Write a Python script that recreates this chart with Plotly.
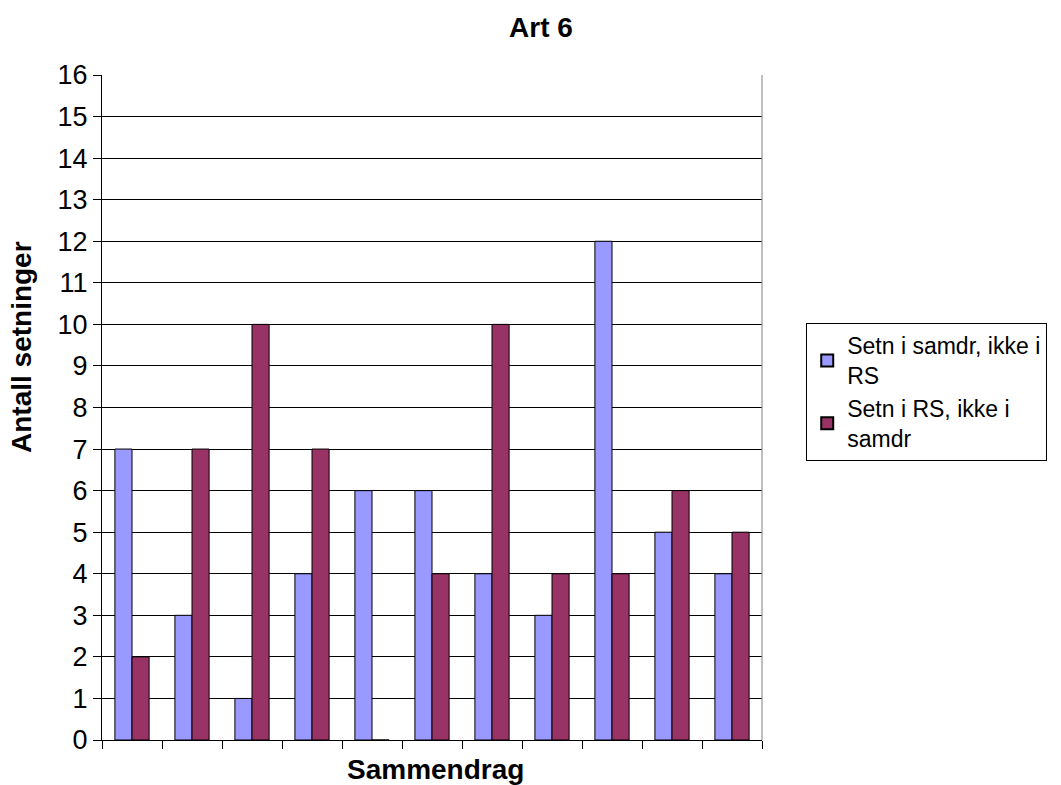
import plotly.graph_objects as go

categories = list(range(1, 12))
series1_name = "Setn i samdr, ikke i<br>RS"
series2_name = "Setn i RS, ikke i<br>samdr"
series1 = [7, 3, 1, 4, 6, 6, 4, 3, 12, 5, 4]
series2 = [2, 7, 10, 7, 0, 4, 10, 4, 4, 6, 5]
y_ticks = list(range(0, 17))

FONT = "Liberation Sans, Arial, sans-serif"

fig = go.Figure()
fig.add_trace(go.Bar(x=categories, y=series1, name=series1_name,
                     marker=dict(color="#9999FF", line=dict(color="black", width=1))))
fig.add_trace(go.Bar(x=categories, y=series2, name=series2_name,
                     marker=dict(color="#993366", line=dict(color="black", width=1))))

fig.update_layout(
    width=1061, height=785,
    margin=dict(l=102, r=299, t=75, b=45),
    paper_bgcolor="white", plot_bgcolor="white",
    barmode="group", bargap=0.43, bargroupgap=0,
    font=dict(family=FONT, color="black"),
    title=dict(text="<b>Art 6</b>", x=541/1061, xanchor="center", y=1-27/785, yanchor="middle",
               font=dict(size=28, family=FONT)),
    legend=dict(x=1.067, y=0.627, xanchor="left", yanchor="top",
                bordercolor="black", borderwidth=1, bgcolor="white",
                font=dict(size=23, family=FONT), tracegroupgap=12,
                itemsizing="constant"),
)
fig.update_xaxes(
    range=[0.5, 11.5],
    tickvals=[0.5 + i for i in range(12)], ticktext=[""] * 12,
    ticks="outside", ticklen=8, tickcolor="black",
    showline=True, linecolor="black", linewidth=1, showgrid=False, zeroline=False,
)
fig.update_yaxes(
    range=[0, 16], tickvals=y_ticks,
    ticks="outside", ticklen=8, tickcolor="black",
    tickfont=dict(size=27, family=FONT),
    showline=True, linecolor="black", linewidth=1,
    showgrid=True, gridcolor="black", gridwidth=1, zeroline=False,
)
fig.add_annotation(text="<b>Sammendrag</b>", xref="paper", yref="paper",
                   x=(435 - 102) / 660, y=(740 - 770) / 665, xanchor="center", yanchor="middle",
                   showarrow=False, font=dict(size=28, family=FONT))
fig.add_annotation(text="<b>Antall setninger</b>", xref="paper", yref="paper",
                   x=(22 - 102) / 660, y=(740 - 347) / 665, xanchor="center", yanchor="middle",
                   textangle=-90, showarrow=False, font=dict(size=28, family=FONT))
fig.add_shape(type="line", xref="paper", yref="paper", x0=1, x1=1, y0=0, y1=1,
              line=dict(color="#808080", width=1))

fig.write_html("out.html")
